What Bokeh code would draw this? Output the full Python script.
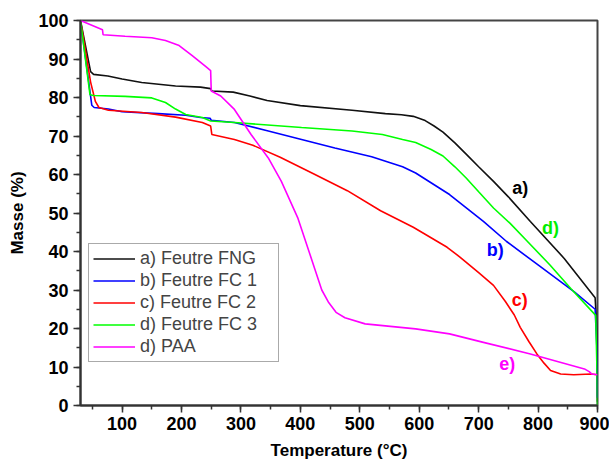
from bokeh.plotting import figure
from bokeh.models import Range1d, SingleIntervalTicker, Legend, LegendItem
from bokeh.embed import file_html
from bokeh.resources import INLINE
from bokeh.core.properties import value

# ---- data ----
t_fng = [30, 47, 52, 76, 100, 133, 190, 232, 249, 251, 287, 315, 344, 400, 487, 543, 570, 590, 610, 625, 640, 660, 679, 700, 725, 750, 787, 844, 896, 899, 900]
m_fng = [100, 86.7, 86.0, 85.6, 84.8, 83.9, 83.0, 82.7, 82.3, 81.7, 81.4, 80.4, 79.2, 77.9, 76.7, 75.8, 75.5, 75.1, 74.0, 72.6, 71.0, 68.2, 65.3, 62.0, 58.2, 54.2, 47.8, 38.2, 28.0, 20, 1]

t_fc1 = [30, 49, 53, 77, 100, 161, 207, 232, 248, 250, 289, 346, 402, 458, 520, 572, 594, 651, 708, 747, 800, 861, 896, 899, 900]
m_fc1 = [100, 78.0, 77.4, 77.0, 76.3, 75.8, 75.4, 74.8, 74.6, 74.1, 73.5, 71.3, 69.1, 66.9, 64.6, 62.0, 60.4, 54.8, 47.8, 42.6, 36.5, 29.5, 25.0, 15, 2]

t_fc2 = [30, 47, 55, 61, 77, 133, 190, 235, 249, 251, 289, 320, 366, 422, 479, 535, 590, 647, 669, 700, 725, 745, 760, 770, 785, 798, 810, 821, 838, 860, 889, 900]
m_fc2 = [100, 84.0, 79.0, 77.4, 76.7, 76.1, 74.9, 73.5, 72.6, 70.4, 69.1, 67.6, 64.5, 60.2, 55.8, 50.6, 46.3, 41.1, 38.5, 34.5, 31.2, 27.0, 23.5, 20.3, 16.5, 13.4, 11.0, 9.1, 8.2, 8.0, 8.2, 8.0]

t_fc3 = [30, 46, 52, 105, 150, 173, 190, 207, 235, 249, 289, 402, 487, 538, 572, 594, 620, 640, 660, 679, 700, 725, 753, 781, 820, 855, 897, 899, 900]
m_fc3 = [100, 80.7, 80.5, 80.3, 79.9, 78.7, 77.0, 75.6, 74.8, 73.9, 73.5, 72.2, 71.3, 70.4, 69.1, 68.3, 66.5, 64.8, 62.0, 59.1, 55.5, 51.3, 47.3, 42.8, 36.5, 30.4, 23.4, 10, 0]

t_paa = [30, 67, 68, 105, 150, 173, 196, 218, 241, 249, 250, 266, 289, 317, 346, 368, 396, 424, 436, 447, 460, 475, 509, 594, 651, 708, 787, 878, 886, 890, 900]
m_paa = [100, 97.6, 96.3, 95.9, 95.5, 94.8, 93.5, 90.9, 88.0, 87.0, 81.7, 80.4, 76.9, 70.4, 64.3, 58.2, 48.6, 35.6, 30.0, 26.9, 24.2, 22.8, 21.2, 19.9, 18.6, 16.4, 13.4, 9.5, 8.8, 8.2, 8.0]

series_names = ["a) Feutre FNG", "b) Feutre FC 1", "c) Feutre FC 2", "d) Feutre FC 3", "d) PAA"]
series_colors = ["#111111", "#0000ff", "#ff0000", "#00ff00", "#ff00ff"]

label_text = ["a)", "b)", "c)", "d)", "e)"]
label_x = [770, 728, 769, 821, 748]
label_y = [56.6, 40.3, 27.5, 46.2, 10.9]
label_colors = ["#000000", "#0000ff", "#ff0000", "#00ee00", "#ff00ff"]

FONT = "Liberation Sans"

p = figure(width=609, height=466, output_backend="svg", toolbar_location=None,
           x_range=Range1d(30, 900), y_range=Range1d(0, 100),
           min_border_left=80, min_border_right=12, min_border_top=20, min_border_bottom=61)
p.grid.visible = False
p.outline_line_color = "#444444"
p.outline_line_width = 2
p.background_fill_color = "white"
p.border_fill_color = "white"

renderers = []
for t, m, c in zip([t_fng, t_fc1, t_fc2, t_fc3, t_paa],
                   [m_fng, m_fc1, m_fc2, m_fc3, m_paa], series_colors):
    r = p.line(t, m, line_color=c, line_width=1.6)
    renderers.append(r)

p.text(x=label_x, y=label_y, text=label_text, text_color=label_colors,
       text_font=value(FONT), text_font_size="18px", text_font_style="bold",
       text_align="center", text_baseline="middle")

p.xaxis.ticker = SingleIntervalTicker(interval=100, num_minor_ticks=2)
p.yaxis.ticker = SingleIntervalTicker(interval=10, num_minor_ticks=2)
for ax in (p.xaxis[0], p.yaxis[0]):
    ax.axis_line_width = 2
    ax.axis_line_color = "#333333"
    ax.major_tick_line_color = "#333333"
    ax.minor_tick_line_color = "#333333"
    ax.major_tick_line_width = 1.5
    ax.minor_tick_line_width = 1.5
    ax.major_tick_in = 0
    ax.major_tick_out = 7
    ax.minor_tick_in = 0
    ax.minor_tick_out = 4
    ax.major_label_text_font = FONT
    ax.major_label_text_font_style = "bold"
    ax.major_label_text_font_size = "18px"
    ax.major_label_text_color = "#000000"
    ax.axis_label_text_font = FONT
    ax.axis_label_text_font_style = "bold"
    ax.axis_label_text_font_size = "17px"
    ax.axis_label_text_color = "#000000"
p.xaxis.axis_label = "Temperature (°C)"
p.yaxis.axis_label = "Masse (%)"
p.xaxis.major_label_standoff = 4
p.xaxis.axis_label_standoff = 8
p.yaxis.major_label_standoff = 5
p.yaxis.axis_label_standoff = 8

items = [LegendItem(label=n, renderers=[r]) for n, r in zip(series_names, renderers)]
legend = Legend(items=items, location=(8, 43), margin=0, padding=4, spacing=1,
                glyph_width=42, glyph_height=21, label_height=21, label_standoff=5,
                label_width=134,
                label_text_font=FONT, label_text_font_size="18px",
                border_line_color="#555555", border_line_width=1,
                background_fill_alpha=1.0)
p.add_layout(legend)

open("out.html", "w").write(file_html(p, INLINE))
